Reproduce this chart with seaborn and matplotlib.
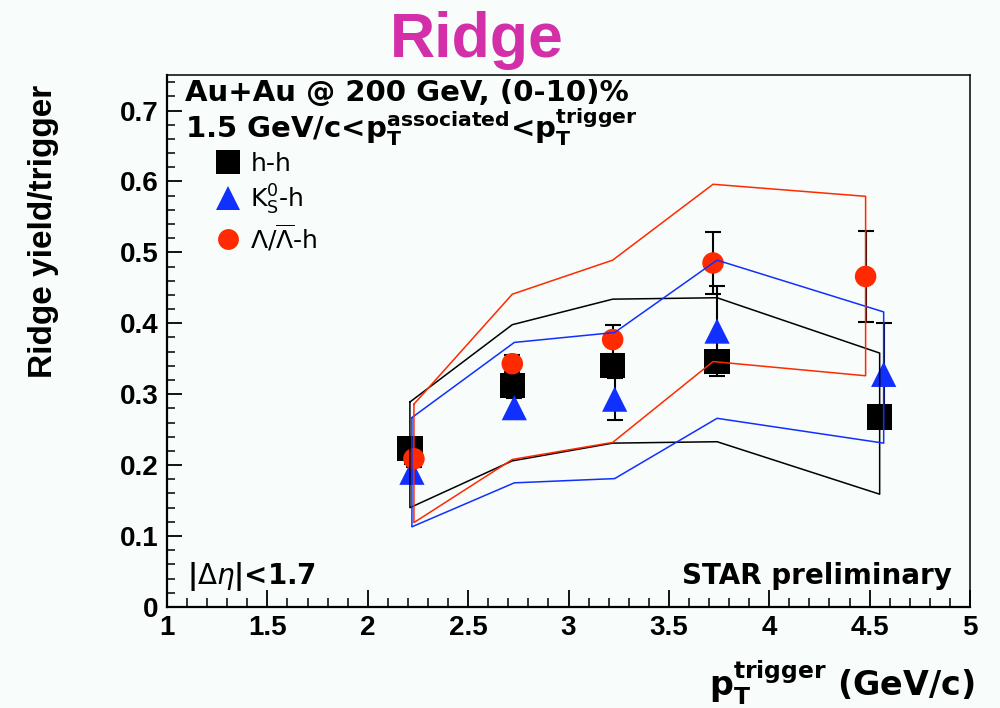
import numpy as np
import pandas as pd
import matplotlib
matplotlib.use("Agg")
import matplotlib.pyplot as plt
from matplotlib.lines import Line2D
from matplotlib.ticker import MultipleLocator, FuncFormatter
import seaborn as sns

# ---- data: ridge yield per trigger vs trigger pT, Au+Au 200 GeV (0-10)% ----
pt_hh = [2.21, 2.72, 3.22, 3.74, 4.55]
y_hh = [0.223, 0.312, 0.341, 0.346, 0.268]
err_hh = [0.010, 0.010, 0.012, 0.015, 0.015]
sys_hi_hh = [0.289, 0.398, 0.434, 0.436, 0.358]
sys_lo_hh = [0.140, 0.206, 0.231, 0.233, 0.159]

pt_k0s = [2.22, 2.73, 3.23, 3.74, 4.57]
y_k0s = [0.190, 0.281, 0.293, 0.389, 0.328]
err_k0s = [0.012, 0.014, 0.030, 0.064, 0.073]
sys_hi_k0s = [0.267, 0.373, 0.387, 0.489, 0.416]
sys_lo_k0s = [0.113, 0.175, 0.181, 0.266, 0.231]

pt_lam = [2.23, 2.72, 3.22, 3.72, 4.48]
y_lam = [0.209, 0.343, 0.377, 0.485, 0.466]
err_lam = [0.012, 0.012, 0.021, 0.044, 0.064]
sys_hi_lam = [0.286, 0.441, 0.489, 0.596, 0.579]
sys_lo_lam = [0.119, 0.208, 0.232, 0.346, 0.326]

labels = ["h-h", r"K$_\mathrm{S}^0$-h", r"$\Lambda/\overline{\Lambda}$-h"]

BLACK = "#000000"
BLUE = "#1030ff"
RED = "#ff2a00"
BG = "#f8fcfa"

sns.set_theme(style="ticks")
plt.rcParams["font.family"] = ["DejaVu Sans"]
plt.rcParams["mathtext.fontset"] = "dejavusans"
for key in ["text.color", "axes.labelcolor", "xtick.color", "ytick.color", "axes.edgecolor"]:
    plt.rcParams[key] = "black"

fig = plt.figure(figsize=(10, 7.08), dpi=100, facecolor=BG)
ax = fig.add_axes([0.167, 0.1427, 0.803, 0.7513])
ax.set_facecolor(BG)

series = [
    (pt_hh, y_hh, err_hh, sys_hi_hh, sys_lo_hh, BLACK, "s", 330),
    (pt_k0s, y_k0s, err_k0s, sys_hi_k0s, sys_lo_k0s, BLUE, "^", 330),
    (pt_lam, y_lam, err_lam, sys_hi_lam, sys_lo_lam, RED, "o", 240),
]

for x, y, e, hi, lo, col, mk, sz in series:
    # statistical error bars
    ax.errorbar(x, y, yerr=e, fmt="none", ecolor="black", elinewidth=1.5,
                capsize=6, capthick=1.5, zorder=2)
    # markers
    sns.scatterplot(x=x, y=y, marker=mk, s=sz, color=col, edgecolor="none",
                    linewidth=0, ax=ax, zorder=3, legend=False)

for x, y, e, hi, lo, col, mk, sz in series:
    # systematic band drawn as a closed outline
    bx = list(x) + list(x[::-1]) + [x[0]]
    by = list(hi) + list(lo[::-1]) + [hi[0]]
    band = pd.DataFrame({"x": bx, "y": by})
    sns.lineplot(data=band, x="x", y="y", sort=False, estimator=None,
                 color=col, linewidth=1.1, ax=ax, zorder=4)

ax.set_xlim(1, 5)
ax.set_ylim(0, 0.75)
ax.set_xlabel("")
ax.set_ylabel("")

ax.xaxis.set_major_locator(MultipleLocator(0.5))
ax.xaxis.set_minor_locator(MultipleLocator(0.1))
ax.yaxis.set_minor_locator(MultipleLocator(0.02))
ax.set_yticks([0, 0.1, 0.2, 0.3, 0.4, 0.5, 0.6, 0.7])
fmt = FuncFormatter(lambda v, p: f"{v:g}")
ax.xaxis.set_major_formatter(fmt)
ax.yaxis.set_major_formatter(fmt)

ax.tick_params(axis="both", which="both", direction="in", top=False, right=False,
               colors="black")
ax.tick_params(axis="x", which="major", length=12, width=1.3, pad=6)
ax.tick_params(axis="x", which="minor", length=6.5, width=1.1)
ax.tick_params(axis="y", which="major", length=11, width=1.3, pad=6)
ax.tick_params(axis="y", which="minor", length=6, width=1.1)
for lab in ax.get_xticklabels() + ax.get_yticklabels():
    lab.set_fontfamily("Liberation Sans")
    lab.set_fontweight("bold")
    lab.set_fontsize(20)
    lab.set_color("black")

for side in ["left", "bottom"]:
    ax.spines[side].set_linewidth(1.6)
for side in ["top", "right"]:
    ax.spines[side].set_linewidth(1.1)
    ax.spines[side].set_visible(True)
for sp in ax.spines.values():
    sp.set_color("black")

# legend
handles = [
    Line2D([], [], linestyle="none", marker="s", markersize=17, color=BLACK, markeredgewidth=0),
    Line2D([], [], linestyle="none", marker="^", markersize=17, color=BLUE, markeredgewidth=0),
    Line2D([], [], linestyle="none", marker="o", markersize=15, color=RED, markeredgewidth=0),
]
leg = ax.legend(handles, labels, loc="upper left", bbox_to_anchor=(0.057, 0.855),
                frameon=False, prop={"family": "DejaVu Sans", "size": 18},
                handletextpad=0.3, labelspacing=0.25, handlelength=1.2,
                borderaxespad=0, borderpad=0)
for t in leg.get_texts():
    t.set_color("black")

# annotations inside the frame
ax.text(0.022, 0.951, "Au+Au @ 200 GeV, (0-10)%", transform=ax.transAxes,
        fontsize=21, fontweight="bold", va="baseline", ha="left")
ax.text(0.022, 0.882,
        r"1.5 GeV/c<$\mathbf{p}_\mathbf{T}^\mathbf{associated}$<$\mathbf{p}_\mathbf{T}^\mathbf{trigger}$",
        transform=ax.transAxes, fontsize=21, fontweight="bold", va="baseline", ha="left")
ax.text(0.025, 0.043, r"|$\Delta\eta$|<1.7", transform=ax.transAxes,
        fontsize=20, fontweight="bold", va="baseline", ha="left")
ax.text(0.977, 0.043, "STAR preliminary", transform=ax.transAxes,
        fontsize=20, fontweight="bold", va="baseline", ha="right")

# axis titles and heading
fig.text(0.975, 0.018, r"$\mathbf{p}_\mathbf{T}^\mathbf{trigger}$ (GeV/c)",
         fontsize=24, fontweight="bold", ha="right", va="baseline")
fig.text(0.044, 0.88, "Ridge yield/trigger", rotation=90, fontsize=24,
         fontweight="bold", family="Liberation Sans", ha="center", va="top")
fig.text(0.477, 0.9195, "Ridge", fontsize=45, fontweight="bold",
         family="Liberation Sans", color="#d22fa9", ha="center", va="baseline")

fig.savefig("out.png", dpi=100, facecolor=BG)
